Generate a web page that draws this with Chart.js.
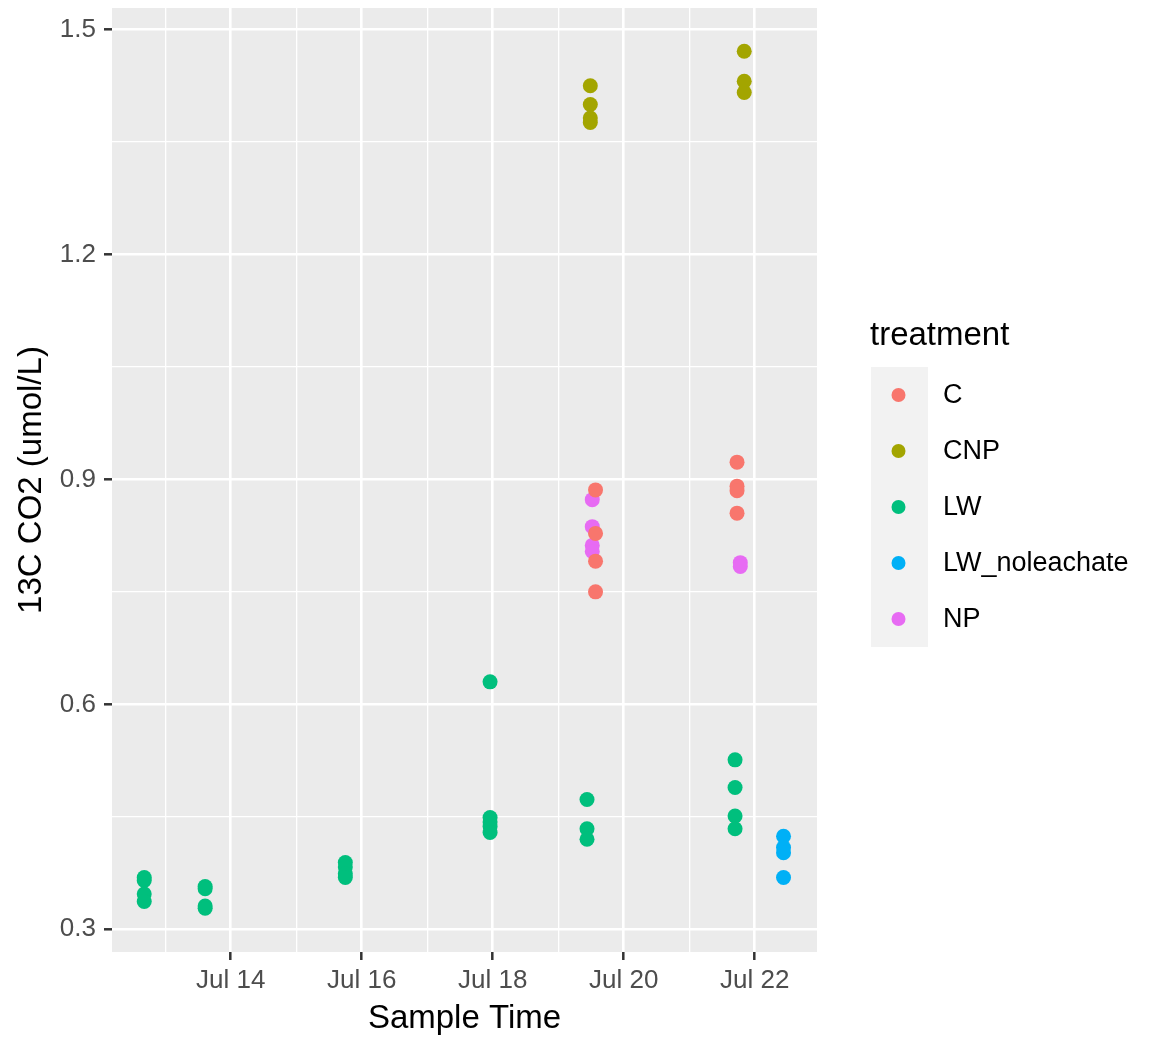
<!DOCTYPE html>
<html>
<head>
<meta charset="utf-8">
<script src="https://cdn.jsdelivr.net/npm/chart.js@4.4.1/dist/chart.umd.min.js"></script>
<style>
  html, body { margin: 0; padding: 0; background: #fff; }
  #wrap { width: 1150px; height: 1040px; }
</style>
</head>
<body>
<div id="wrap"><canvas id="co2Chart"></canvas></div>
<script>
const treatments = ['C', 'CNP', 'LW', 'LW_noleachate', 'NP'];
const treatmentColors = ['#F8766D', '#A3A500', '#00BF7D', '#00B0F6', '#E76BF3'];

// sample time = day of July (fractional), values = 13C CO2 (umol/L)
const cTimes = [19.57, 19.57, 19.57, 19.57, 21.73, 21.73, 21.73, 21.73];
const cValues = [0.886, 0.828, 0.791, 0.750, 0.923, 0.891, 0.885, 0.855];

const cnpTimes = [19.49, 19.49, 19.49, 19.49, 21.84, 21.84, 21.84];
const cnpValues = [1.425, 1.400, 1.382, 1.376, 1.471, 1.431, 1.416];

const lwTimes = [12.68, 12.68, 12.68, 12.68, 13.61, 13.61, 13.61, 13.61,
  15.75, 15.75, 15.75, 15.75, 17.96, 17.96, 17.96, 17.96, 17.96,
  19.44, 19.44, 19.44, 21.70, 21.70, 21.70, 21.70];
const lwValues = [0.369, 0.365, 0.347, 0.337, 0.357, 0.354, 0.331, 0.328,
  0.389, 0.383, 0.374, 0.369, 0.630, 0.449, 0.443, 0.437, 0.429,
  0.473, 0.434, 0.420, 0.526, 0.489, 0.451, 0.434];

const lwnTimes = [22.44, 22.44, 22.44, 22.44];
const lwnValues = [0.424, 0.409, 0.402, 0.369];

const npTimes = [19.52, 19.52, 19.52, 19.52, 21.78, 21.78];
const npValues = [0.873, 0.837, 0.812, 0.804, 0.789, 0.784];

const xTickDays = [14, 16, 18, 20, 22];
const xTickLabels = ['Jul 14', 'Jul 16', 'Jul 18', 'Jul 20', 'Jul 22'];
const xMinorDays = [13, 15, 17, 19, 21];
const yTickValues = [0.3, 0.6, 0.9, 1.2, 1.5];
const yTickLabels = ['0.3', '0.6', '0.9', '1.2', '1.5'];
const yMinorValues = [0.45, 0.75, 1.05, 1.35];

const allTimes = [cTimes, cnpTimes, lwTimes, lwnTimes, npTimes];
const allValues = [cValues, cnpValues, lwValues, lwnValues, npValues];

const FONT = '"Liberation Sans", Arial, Helvetica, sans-serif';
Chart.defaults.font.family = FONT;

const findIdx = (list, v) => list.findIndex(t => Math.abs(t - v) < 1e-6);

const datasets = treatments.map((name, i) => ({
  label: name,
  data: allTimes[i].map((t, j) => ({ x: t, y: allValues[i][j] })),
  backgroundColor: treatmentColors[i],
  borderWidth: 0,
  pointRadius: 7.5,
  pointHoverRadius: 7.5
}));

// grey panel behind the grid, like ggplot's theme_gray
const panelBg = {
  id: 'panelBg',
  beforeDraw(chart) {
    const { ctx, chartArea: a } = chart;
    ctx.save();
    ctx.fillStyle = '#EBEBEB';
    ctx.fillRect(a.left, a.top, a.right - a.left, a.bottom - a.top);
    ctx.restore();
  }
};

// ggplot style legend with a title and grey key column
const ggLegend = {
  id: 'ggLegend',
  afterDraw(chart) {
    const { ctx, chartArea: a } = chart;
    const x0 = a.right + 53;
    const keyTop = 367, keyH = 56, keyW = 57;
    ctx.save();
    ctx.fillStyle = '#000';
    ctx.font = '33px ' + FONT;
    ctx.textBaseline = 'alphabetic';
    ctx.textAlign = 'left';
    ctx.fillText('treatment', x0, 345);
    const ds = chart.data.datasets;
    ctx.fillStyle = '#F2F2F2';
    ctx.fillRect(x0 + 1, keyTop, keyW, keyH * ds.length);
    ds.forEach((d, i) => {
      const cy = keyTop + keyH * i + keyH / 2;
      ctx.beginPath();
      ctx.fillStyle = d.backgroundColor;
      ctx.arc(x0 + 28.5, cy, 7, 0, Math.PI * 2);
      ctx.fill();
      ctx.fillStyle = '#000';
      ctx.font = '27px ' + FONT;
      ctx.textBaseline = 'middle';
      ctx.fillText(d.label, x0 + 73, cy + 1);
    });
    ctx.restore();
  }
};

new Chart(document.getElementById('co2Chart'), {
  type: 'scatter',
  data: { datasets },
  options: {
    responsive: true,
    maintainAspectRatio: false,
    animation: false,
    layout: { padding: { top: 8, right: 333, bottom: 0, left: 0 } },
    plugins: {
      legend: { display: false },
      tooltip: { enabled: false }
    },
    scales: {
      x: {
        type: 'linear',
        min: 12.188,
        max: 22.951,
        afterBuildTicks: axis => {
          axis.ticks = [...xMinorDays, ...xTickDays].sort((a, b) => a - b).map(v => ({ value: v }));
        },
        afterFit: s => {
          s.height = 88;
          s.paddingLeft = 0;
          s.paddingRight = 0;
        },
        border: { display: false },
        grid: {
          color: '#FFFFFF',
          lineWidth: c => findIdx(xTickDays, c.tick.value) >= 0 ? 2.6 : 1.3,
          tickColor: c => findIdx(xTickDays, c.tick.value) >= 0 ? '#333333' : 'rgba(0,0,0,0)',
          tickWidth: 2.5,
          tickLength: 8
        },
        ticks: {
          autoSkip: false,
          maxRotation: 0,
          padding: 5,
          color: '#4D4D4D',
          font: { size: 26 },
          callback: v => {
            const i = findIdx(xTickDays, v);
            return i >= 0 ? xTickLabels[i] : '';
          }
        },
        title: {
          display: true,
          text: 'Sample Time',
          color: '#000',
          font: { size: 33 },
          padding: { top: 0, bottom: 1 }
        }
      },
      y: {
        min: 0.2697,
        max: 1.5287,
        afterBuildTicks: axis => {
          axis.ticks = [...yMinorValues, ...yTickValues].sort((a, b) => a - b).map(v => ({ value: v }));
        },
        afterFit: s => {
          s.width = 112;
          s.paddingTop = 0;
          s.paddingBottom = 0;
        },
        border: { display: false },
        grid: {
          color: '#FFFFFF',
          lineWidth: c => findIdx(yTickValues, c.tick.value) >= 0 ? 2.6 : 1.3,
          tickColor: c => findIdx(yTickValues, c.tick.value) >= 0 ? '#333333' : 'rgba(0,0,0,0)',
          tickWidth: 2.5,
          tickLength: 8
        },
        ticks: {
          padding: 8,
          color: '#4D4D4D',
          font: { size: 26 },
          callback: v => {
            const i = findIdx(yTickValues, v);
            return i >= 0 ? yTickLabels[i] : '';
          }
        },
        title: {
          display: true,
          text: '13C CO2 (umol/L)',
          color: '#000',
          font: { size: 33 },
          padding: { top: 12, bottom: 0 }
        }
      }
    }
  },
  plugins: [panelBg, ggLegend]
});
</script>
</body>
</html>
